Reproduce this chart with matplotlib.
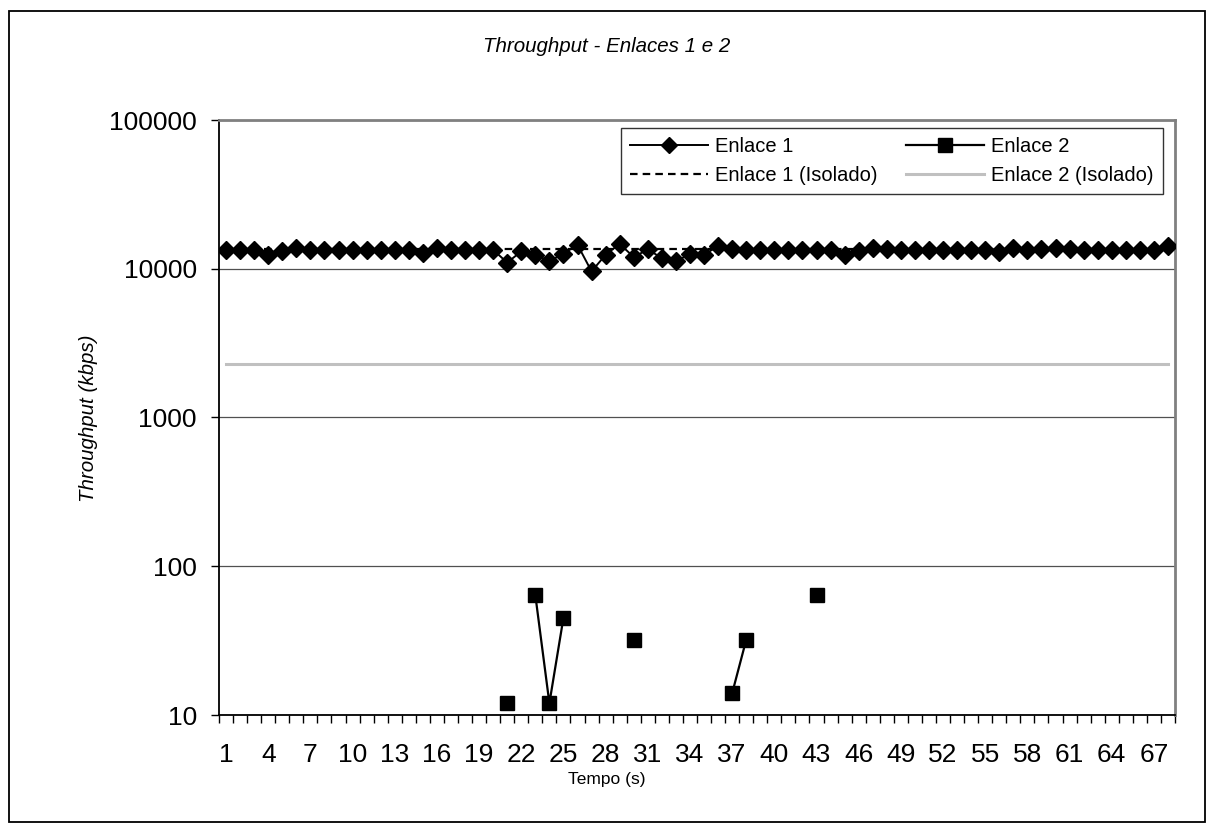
import numpy as np
import matplotlib.pyplot as plt
from matplotlib.patches import Rectangle
from matplotlib.lines import Line2D

plt.rcParams['font.family'] = ['Liberation Sans', 'DejaVu Sans']

# dados (kbps) por segundo
tempo = list(range(1, 69))
enlace1 = [13300, 13300, 13300, 12400, 13100, 13700, 13400, 13400, 13300, 13400,
           13400, 13400, 13400, 13300, 12800, 13700, 13400, 13300, 13300, 13400,
           11000, 13080, 12420, 11260, 12610, 14500, 9600, 12420, 14700, 11980,
           13490, 11790, 11190, 12610, 12420, 14200, 13500, 13400, 13400, 13400,
           13300, 13300, 13300, 13400, 12400, 13100, 13700, 13500, 13400, 13400,
           13400, 13400, 13400, 13400, 13300, 12900, 13800, 13400, 13500, 13700,
           13500, 13400, 13400, 13400, 13300, 13400, 13300, 14200]
# enlace 2 so tem valores em alguns segundos
enlace2_t = [21, 23, 24, 25, 30, 37, 38, 43]
enlace2_v = [12, 64, 12, 45, 32, 14, 32, 64]
enlace1_isolado = 13600
enlace2_isolado = 2300

e2 = np.full(len(tempo), np.nan)
for t, v in zip(enlace2_t, enlace2_v):
    e2[t - 1] = v

tracejado = (0, (3.4, 2.3))

fig = plt.figure(figsize=(12.14, 8.3), dpi=100)
ax = fig.add_axes([219/1214, 1-715/830, (1175-219)/1214, (715-120)/830])

ax.plot(tempo, [enlace2_isolado]*len(tempo), color='#c0c0c0', lw=2.2, zorder=2)
ax.plot(tempo, [enlace1_isolado]*len(tempo), color='black', lw=1.6,
        linestyle=tracejado, zorder=2)
ax.plot(tempo, enlace1, color='black', lw=1.4, marker='D', ms=9.5, zorder=3)
ax.plot(tempo, e2, color='black', lw=1.6, marker='s', ms=10.5, zorder=3)

ax.set_yscale('log')
ax.set_ylim(10, 100000)
ax.set_xlim(0.5, 68.5)
ax.set_yticks([10, 100, 1000, 10000, 100000])
ax.set_yticklabels(['10', '100', '1000', '10000', '100000'])
ax.yaxis.set_minor_locator(plt.NullLocator())
ax.grid(axis='y', which='major', color='#505050', lw=0.9)
ax.set_axisbelow(True)

ax.set_xticks(tempo[::3])
ax.set_xticklabels([str(t) for t in tempo[::3]])
ax.set_xticks(np.arange(0.5, 69, 1), minor=True)
ax.tick_params(axis='x', which='major', length=0, pad=20, labelsize=19)
ax.tick_params(axis='x', which='minor', length=6, width=1, direction='out')
ax.tick_params(axis='y', which='major', length=6, width=1, pad=10, labelsize=19)

for s in ['left', 'bottom']:
    ax.spines[s].set_color('black')
    ax.spines[s].set_linewidth(1.3)
for s in ['top', 'right']:
    ax.spines[s].set_color('#808080')
    ax.spines[s].set_linewidth(2)

handles = [
    Line2D([], [], color='black', lw=1.4, marker='D', ms=8),
    Line2D([], [], color='black', lw=1.6, linestyle=tracejado),
    Line2D([], [], color='black', lw=1.6, marker='s', ms=10),
    Line2D([], [], color='#c0c0c0', lw=2.2),
]
labels = ['Enlace 1', 'Enlace 1 (Isolado)', 'Enlace 2', 'Enlace 2 (Isolado)']
leg = ax.legend(handles, labels, ncol=2, loc='upper right',
                bbox_to_anchor=(1163/1214, 1-128/830), bbox_transform=fig.transFigure,
                fontsize=14.5, frameon=True, fancybox=False, edgecolor='black',
                handlelength=3.9, handletextpad=0.35, columnspacing=1.4,
                labelspacing=0.5, borderpad=0.45, borderaxespad=0)
leg.get_frame().set_linewidth(1.0)

fig.text(0.5, 1-46/830, 'Throughput - Enlaces 1 e 2', ha='center', va='center',
         fontsize=14.8, style='italic')
fig.text(88/1214, 1-418/830, 'Throughput (kbps)', ha='center', va='center',
         rotation=90, fontsize=14.8, style='italic')
fig.text(0.5, 1-779/830, 'Tempo (s)', ha='center', va='center', fontsize=12.5)

fig.patches.append(Rectangle((9/1214, 1-822/830), (1205-9)/1214, (822-11)/830,
                             transform=fig.transFigure, fill=False,
                             edgecolor='black', lw=1.3))

fig.savefig('out.png', dpi=100)
